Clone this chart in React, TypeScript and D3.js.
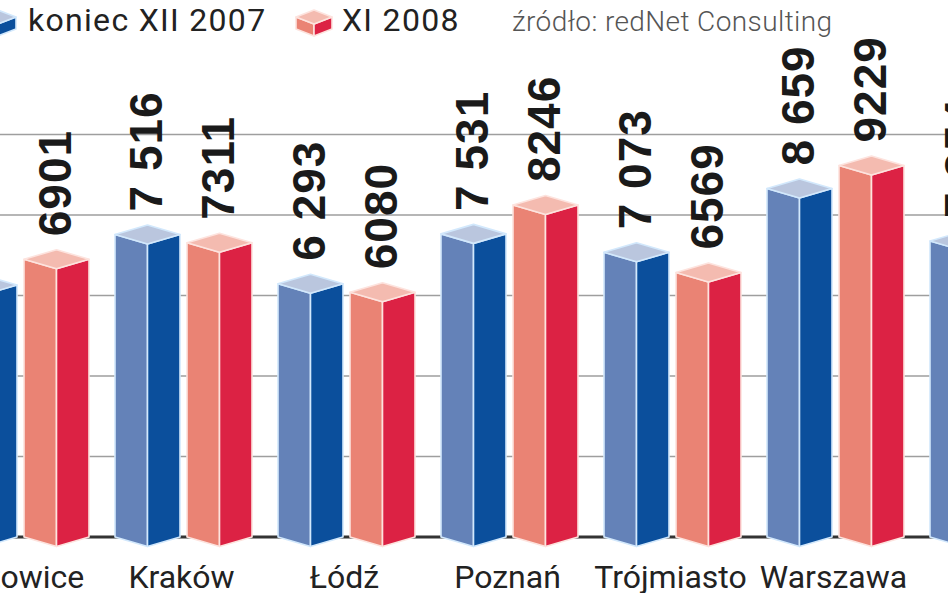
import React from "react";
import * as d3 from "d3";

const cities = ["Katowice", "Kraków", "Łódź", "Poznań", "Trójmiasto", "Warszawa", "Wrocław"];
const values2007 = [6260, 7516, 6293, 7531, 7073, 8659, 7354];
const values2008 = [6901, 7311, 6080, 8246, 6569, 9229, 7100];
const gridTicks = [2000, 4000, 6000, 8000, 10000];
const legendLabels = ["koniec XII 2007", "XI 2008"];
const sourceText = "źródło: redNet Consulting";

const W = 948;
const H = 593;

const blue = { left: "#6482b8", right: "#0b4f9c", top: "#bac6de", stroke: "#d2e8fc" };
const red = { left: "#ea8374", right: "#dc2244", top: "#f4bbb0", stroke: "#fde3de" };

const spaceFmt = d3.formatLocale({ thousands: " ", grouping: [3], decimal: ",", currency: ["", ""] }).format(",d");
const plainFmt = d3.format("d");

function Box({ x0, w, t, base, d, c }: { x0: number; w: number; t: number; base: number; d: number; c: any }) {
  const mid = x0 + w / 2;
  const x1 = x0 + w;
  const left = `M${x0},${t}L${mid},${t + d}L${mid},${base + d}L${x0},${base}Z`;
  const right = `M${mid},${t + d}L${x1},${t}L${x1},${base}L${mid},${base + d}Z`;
  const top = `M${x0},${t}L${mid},${t - d}L${x1},${t}L${mid},${t + d}Z`;
  return (
    <g stroke={c.stroke} strokeWidth={1.6} strokeLinejoin="round">
      <path d={left} fill={c.left} />
      <path d={right} fill={c.right} />
      <path d={top} fill={c.top} />
    </g>
  );
}

export default function App() {
  const x = d3.scaleBand<string>().domain(cities).range([-61, -61 + 163 * cities.length]).paddingInner(26 / 163).paddingOuter(13 / 163);
  const inner = d3.scaleBand<string>().domain(["2007", "2008"]).range([0, x.bandwidth()]).paddingInner(7 / 72).paddingOuter(0);
  const y = d3.scaleLinear().domain([0, 10000]).range([537, 134.5]);
  const base = y(0);
  const d = 9.5;
  const fs = 46;
  const series = [
    { key: "2007", vals: values2007, c: blue, fmt: spaceFmt },
    { key: "2008", vals: values2008, c: red, fmt: plainFmt },
  ];
  return (
    <svg width={W} height={H} style={{ position: "fixed", left: 0, top: 0, background: "#fff" }}>
      <rect width={W} height={H} fill="#fff" />
      {gridTicks.map((t) => (
        <line key={t} x1={0} x2={W} y1={y(t)} y2={y(t)} stroke="#9e9e9e" strokeWidth={1.5} />
      ))}
      <line x1={0} x2={W} y1={base} y2={base} stroke="#333" strokeWidth={3} />
      {cities.map((city, i) => {
        const gx = (x(city) as number) + x.bandwidth() / 2 - 2;
        return (
          <g key={city}>
            {series.map((s) => {
              const x0 = (x(city) as number) + (inner(s.key) as number);
              const w = inner.bandwidth();
              const t = y(s.vals[i]);
              const cx = x0 + w / 2;
              const ly = t - 23;
              const lx = cx - 2 + 0.36 * fs;
              return (
                <g key={s.key}>
                  <Box x0={x0} w={w} t={t} base={base} d={d} c={s.c} />
                  <text
                    transform={`translate(${lx},${ly}) rotate(-90)`}
                    fontFamily="'Liberation Sans', Arial, sans-serif"
                    fontWeight="bold"
                    fontSize={fs}
                    letterSpacing={1}
                    fill="#1a1a1a"
                  >
                    {s.fmt(s.vals[i])}
                  </text>
                </g>
              );
            })}
            {gx < W - 40 ? (
              <text x={gx} y={588} textAnchor="middle" fontFamily="Roboto, sans-serif" fontSize={32} fill="#222">
                {city}
              </text>
            ) : null}
          </g>
        );
      })}
      {/* legend */}
      <Box x0={-20} w={36} t={17} base={29} d={7} c={blue} />
      <text x={28} y={31} fontFamily="Roboto, sans-serif" fontSize={32} letterSpacing={1.3} fill="#222">{legendLabels[0]}</text>
      <Box x0={296} w={36} t={17} base={29} d={7} c={red} />
      <text x={342} y={31} fontFamily="Roboto, sans-serif" fontSize={32} letterSpacing={1.3} fill="#222">{legendLabels[1]}</text>
      <text x={512} y={31} fontFamily="Roboto, sans-serif" fontWeight={300} fontSize={28} letterSpacing={0.4} fill="#555">{sourceText}</text>
    </svg>
  );
}
